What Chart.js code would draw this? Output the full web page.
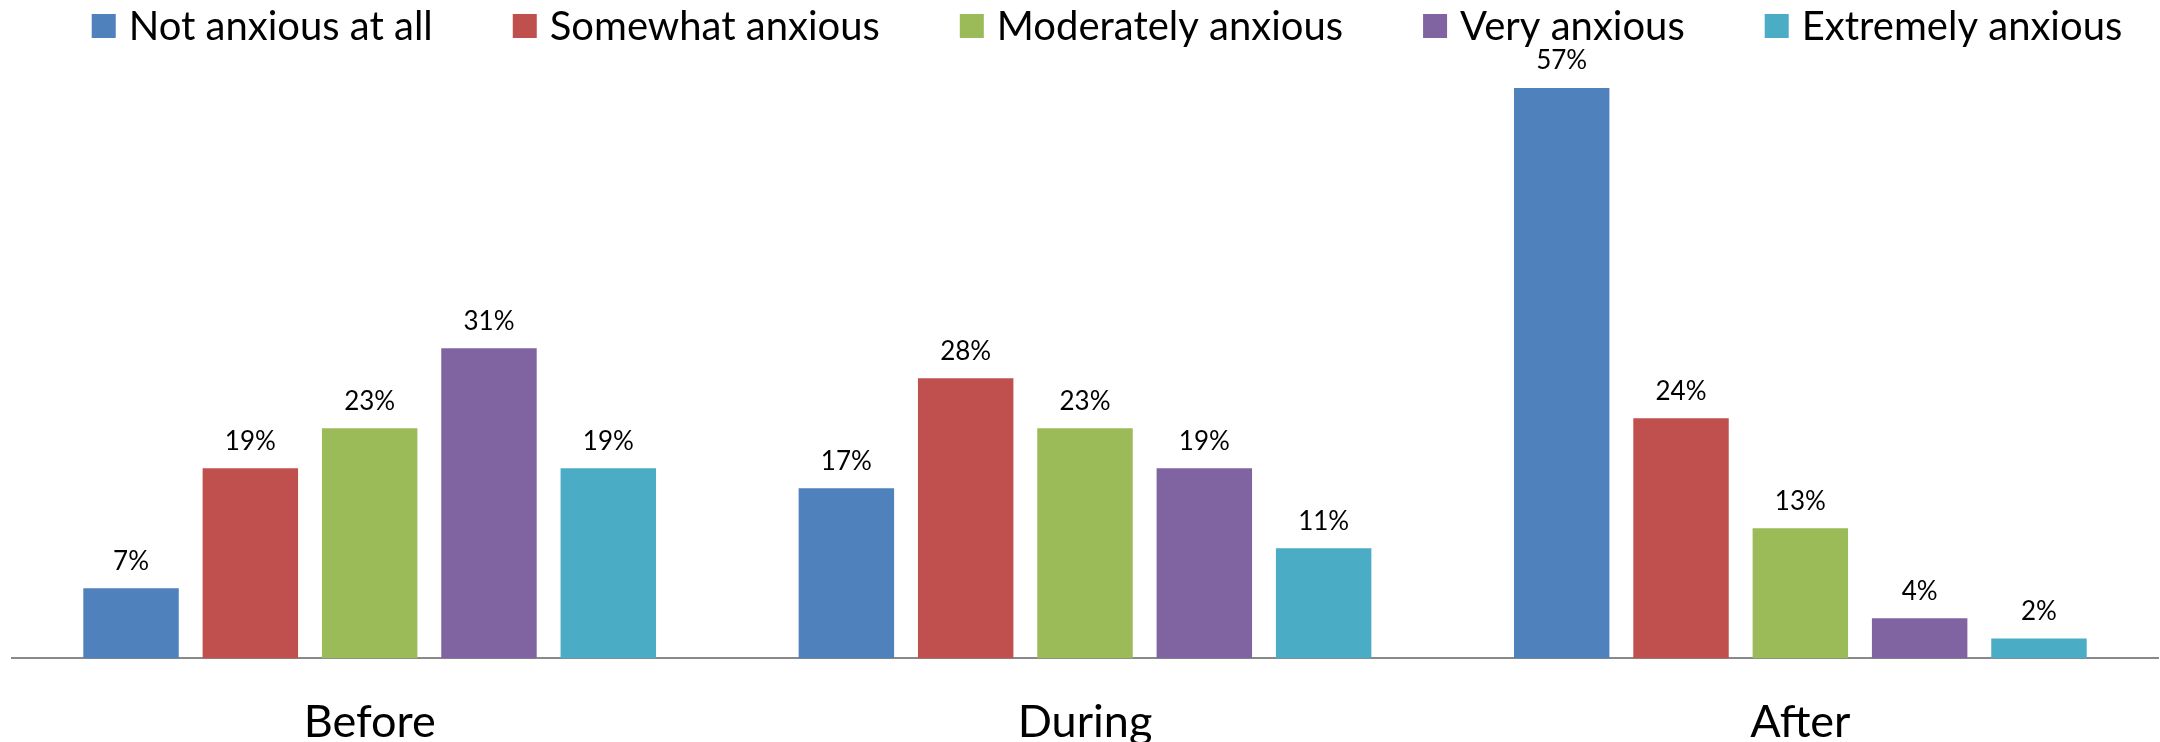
<!DOCTYPE html>
<html>
<head>
<meta charset="utf-8">
<script src="https://cdn.jsdelivr.net/npm/chart.js@4.4.1/dist/chart.umd.min.js"></script>
<style>
  html, body { margin: 0; padding: 0; background: #ffffff; overflow: hidden; }
  #frame { position: relative; width: 2160px; height: 742px; overflow: hidden; }
  #box { position: relative; width: 2160px; height: 801px; }
  canvas { display: block; }
</style>
</head>
<body>
<div id="frame"><div id="box"><canvas id="chart"></canvas></div></div>
<script>
// Survey phases and the share of respondents at each anxiety level (%)
const categories = ['Before', 'During', 'After'];
const seriesNames = ['Not anxious at all', 'Somewhat anxious', 'Moderately anxious', 'Very anxious', 'Extremely anxious'];
const notAnxious        = [7, 17, 57];
const somewhatAnxious   = [19, 28, 24];
const moderatelyAnxious = [23, 23, 13];
const veryAnxious       = [31, 19, 4];
const extremelyAnxious  = [19, 11, 2];

const seriesValues = [notAnxious, somewhatAnxious, moderatelyAnxious, veryAnxious, extremelyAnxious];
const seriesColors = ['#4F81BD', '#C0504D', '#9BBB59', '#8064A2', '#4BACC6'];

const FONT = 'Lato, "Open Sans", sans-serif';

// Percent labels above each bar
const valueLabels = {
  id: 'valueLabels',
  afterDatasetsDraw(chart) {
    const ctx = chart.ctx;
    ctx.save();
    ctx.font = '26px ' + FONT;
    ctx.fillStyle = '#000000';
    ctx.textAlign = 'center';
    ctx.textBaseline = 'middle';
    chart.data.datasets.forEach((ds, i) => {
      const meta = chart.getDatasetMeta(i);
      meta.data.forEach((bar, j) => {
        ctx.fillText(ds.data[j] + '%', bar.x, bar.y - 27);
      });
    });
    ctx.restore();
  }
};

// Single-row legend across the top with square swatches
const topLegend = {
  id: 'topLegend',
  afterDraw(chart) {
    const ctx = chart.ctx;
    const box = 24, textGap = 13, itemGap = 80, cy = 26;
    ctx.save();
    ctx.font = '40px ' + FONT;
    ctx.textBaseline = 'middle';
    ctx.textAlign = 'left';
    const items = chart.data.datasets.map(ds => ({
      text: ds.label, color: ds.backgroundColor, w: box + textGap + ctx.measureText(ds.label).width
    }));
    const total = items.reduce((s, it) => s + it.w, 0) + itemGap * (items.length - 1);
    let x = 1107 - total / 2;
    items.forEach(it => {
      ctx.fillStyle = it.color;
      ctx.fillRect(x, cy - box / 2, box, box);
      ctx.fillStyle = '#000000';
      ctx.fillText(it.text, x + box + textGap, cy + 1);
      x += it.w + itemGap;
    });
    ctx.restore();
  }
};

new Chart(document.getElementById('chart'), {
  type: 'bar',
  data: {
    labels: categories,
    datasets: seriesNames.map((name, i) => ({
      label: name,
      data: seriesValues[i],
      backgroundColor: seriesColors[i],
      borderWidth: 0,
      barPercentage: 0.8,
      categoryPercentage: 0.834
    }))
  },
  options: {
    responsive: true,
    maintainAspectRatio: false,
    animation: false,
    events: [],
    layout: { padding: { top: 58, left: 12, right: 2, bottom: 14.6 } },
    plugins: {
      legend: { display: false },
      tooltip: { enabled: false }
    },
    scales: {
      x: {
        grid: { display: false, drawTicks: false },
        border: { display: true, color: '#898989', width: 2 },
        ticks: { color: '#000000', font: { family: FONT, size: 45 }, padding: 37 }
      },
      y: {
        display: false,
        min: 0,
        max: 60
      }
    }
  },
  plugins: [valueLabels, topLegend]
});
</script>
</body>
</html>
